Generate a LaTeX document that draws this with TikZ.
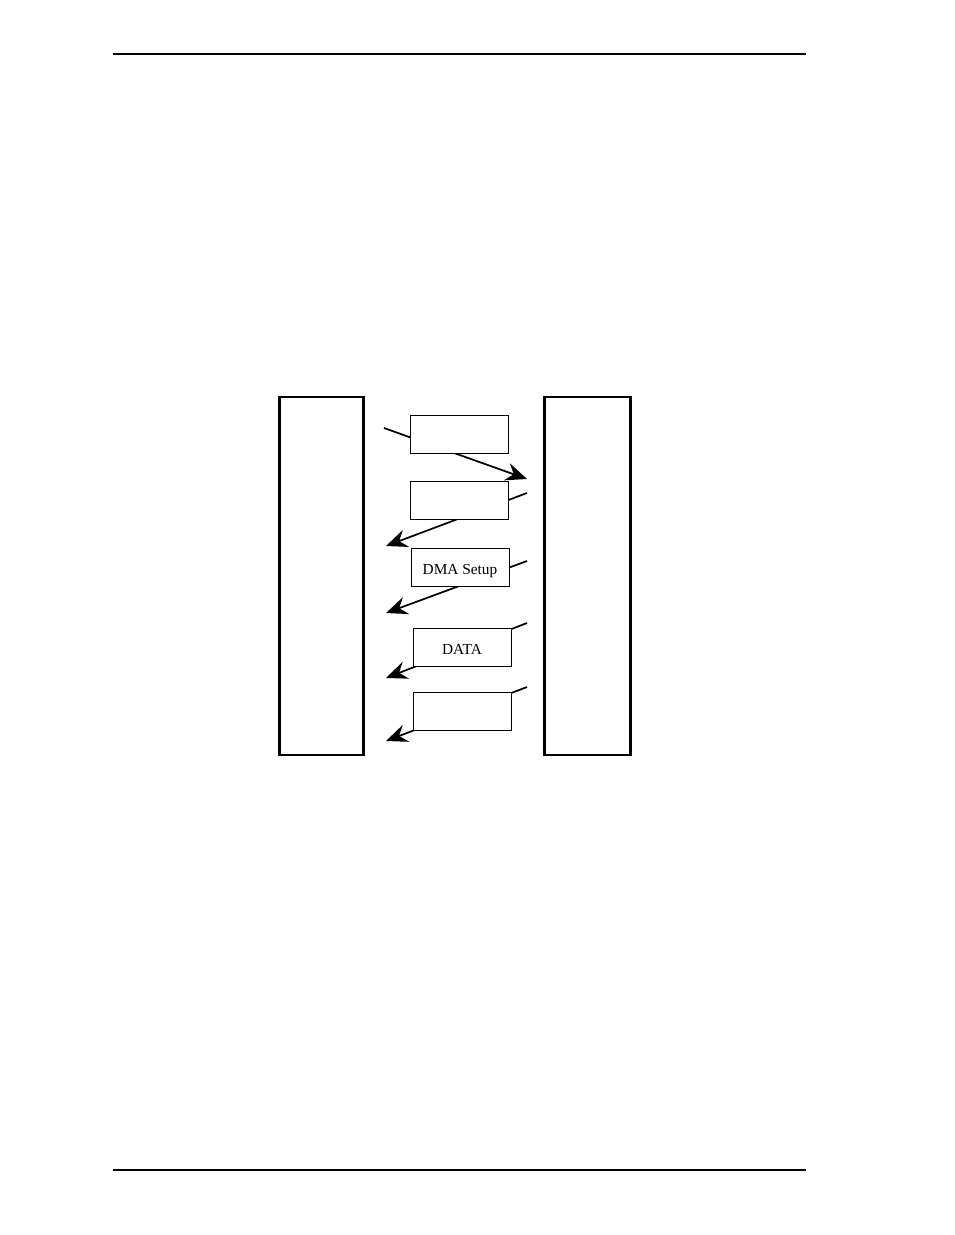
\documentclass[tikz,border=0pt]{standalone}
\usepackage{fontspec}
\setmainfont{Liberation Serif}
\usepackage{tikz}
\usetikzlibrary{arrows.meta}
\tikzstyle{arrow} = [line width=1.3pt, -{Stealth[length=16pt, width=13.5pt, inset=5.5pt]}]

\begin{document}
\begin{tikzpicture}[x=0.75pt, y=-0.75pt, every node/.style={font=\fontsize{11.5}{13}\selectfont},
		side/.style={draw, line width=2.2pt, minimum width=62.5pt, minimum height=268.5pt, inner sep=0pt},
		msg/.style={draw, fill=white, line width=0.75pt, minimum width=73pt, minimum height=28.5pt, inner sep=0pt, text height=10.5pt, text depth=0pt}]
		\useasboundingbox (0,0) rectangle (954,1235);
		\draw [line width=0.8pt] (113,54) -- (806,54);
		\draw [line width=1.5pt] (113,1170) -- (806,1170);

		\node (host) [side] at (321.5,576) {};
		\node (device) [side, minimum width=64pt] at (587.5,576) {};

		\coordinate (s1) at (384,428);   \coordinate (e1) at (527,479);
		\coordinate (s2) at (527,493);   \coordinate (e2) at (386,546);
		\coordinate (s3) at (527,561);   \coordinate (e3) at (386,613);
		\coordinate (s4) at (527,623);   \coordinate (e4) at (386,678);
		\coordinate (s5) at (527,687);   \coordinate (e5) at (386,741);

		\draw [arrow] (s1) -- (e1);
		\draw [arrow] (s2) -- (e2);
		\draw [arrow] (s3) -- (e3);
		\draw [arrow] (s4) -- (e4);
		\draw [arrow] (s5) -- (e5);

		\node (msg1) [msg] at (459.5,434) {};
		\node (msg2) [msg] at (459.5,500) {};
		\node (dma) [msg, minimum width=73.5pt] at (460,567) {DMA Setup};
		\node (data) [msg, minimum width=73.5pt] at (462,647) {DATA};
		\node (msg5) [msg, minimum width=73.5pt] at (462,711) {};
	\end{tikzpicture}
\end{document}
